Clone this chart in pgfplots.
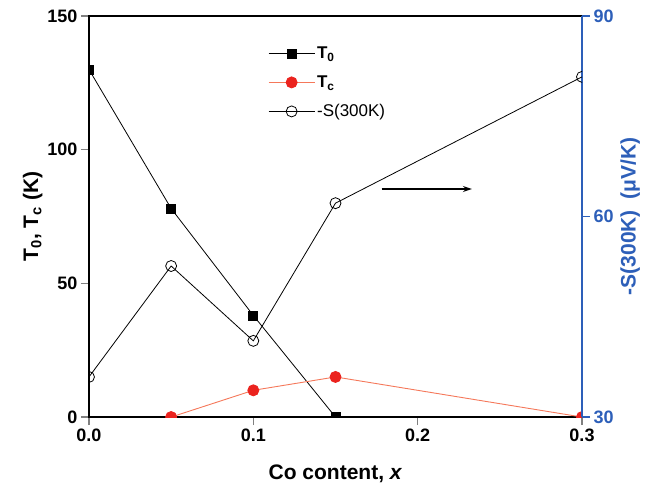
\documentclass[border=0pt]{standalone}
\usepackage{fontspec}
\setmainfont{Liberation Sans}
\usepackage{pgfplots}
\pgfplotsset{compat=1.18}
\usetikzlibrary{arrows.meta}
\definecolor{axblue}{RGB}{45,95,185}
\definecolor{tcred}{RGB}{235,35,30}
\definecolor{tcline}{RGB}{245,120,90}
\begin{document}
\begin{tikzpicture}
\pgfplotsset{
  common/.style={
    scale only axis, width=493pt, height=401pt,
    xmin=0, xmax=0.3,
    tick align=outside,
    major tick length=8pt,
    clip marker paths=true,
    /pgf/number format/assume math mode=true,
    ticklabel style={font=\fontsize{18}{20}\selectfont\bfseries},
    label style={font=\fontsize{21}{24}\selectfont\bfseries},
    axis line style={line width=1.4pt},
    major tick style={line width=1.4pt},
  }
}
\begin{axis}[common,
  ymin=0, ymax=150,
  xtick={0,0.1,0.2,0.3}, ytick={0,50,100,150},
  xtick pos=bottom, ytick pos=left,
  scaled x ticks=false,
  xticklabel style={/pgf/number format/fixed, /pgf/number format/precision=1, /pgf/number format/fixed zerofill},
  xlabel={Co content, \textit{x}},
  xlabel style={yshift=-17pt},
  ylabel={T\textsubscript{0}, T\textsubscript{c} (K)},
  ylabel style={yshift=-2pt},
]
\addplot[black, line width=0.8pt, mark=square*, mark size=4.5pt, mark options={solid}] coordinates {
(0,130) (0.05,78) (0.1,38) (0.15,0)};
\addplot[tcline, line width=0.9pt, mark=*, mark size=5.5pt, mark options={tcred, fill=tcred}] coordinates {
(0.05,0) (0.1,10) (0.15,15) (0.3,0)};
\draw[line width=1.4pt, -{Stealth[length=9pt,width=6pt]}] (axis cs:0.178,85.3) -- (axis cs:0.233,85.3);
\coordinate (bl) at (rel axis cs:-0.1805,-0.1796);
\coordinate (tr) at (rel axis cs:1.142,1.04);
\end{axis}
\begin{axis}[common,
  axis y line*=right, axis x line=none,
  ymin=30, ymax=90, ytick={30,60,90},
  y axis line style={axblue},
  ytick style={axblue},
  yticklabel style={text=axblue},
  ylabel style={text=axblue},
  ylabel={-S(300K)\,\,\,(μV/K)},
  legend style={at={(0.357,0.933)}, anchor=north west, draw=none, fill=none,
    font=\fontsize{17}{19}\selectfont, row sep=11.5pt},
  legend cell align=left,
  legend image code/.code={\draw[mark repeat=2,mark phase=2] plot coordinates {(0pt,0pt) (23pt,0pt) (46pt,0pt)};},
]
\addlegendimage{black, line width=0.8pt, mark=square*, mark size=4.5pt}
\addlegendentry{\textbf{T\textsubscript{0}}}
\addlegendimage{tcline, line width=0.9pt, mark=*, mark size=5.5pt, mark options={tcred, fill=tcred}}
\addlegendentry{\textbf{T\textsubscript{c}}}
\addplot[black, line width=0.8pt, mark=o, mark size=5.5pt, mark options={fill=white, line width=0.8pt}] coordinates {
(0,36) (0.05,52.6) (0.1,41.4) (0.15,62) (0.3,80.9)};
\addlegendentry{-S(300K)}
\end{axis}
\path (bl) rectangle (tr);
\end{tikzpicture}
\end{document}
